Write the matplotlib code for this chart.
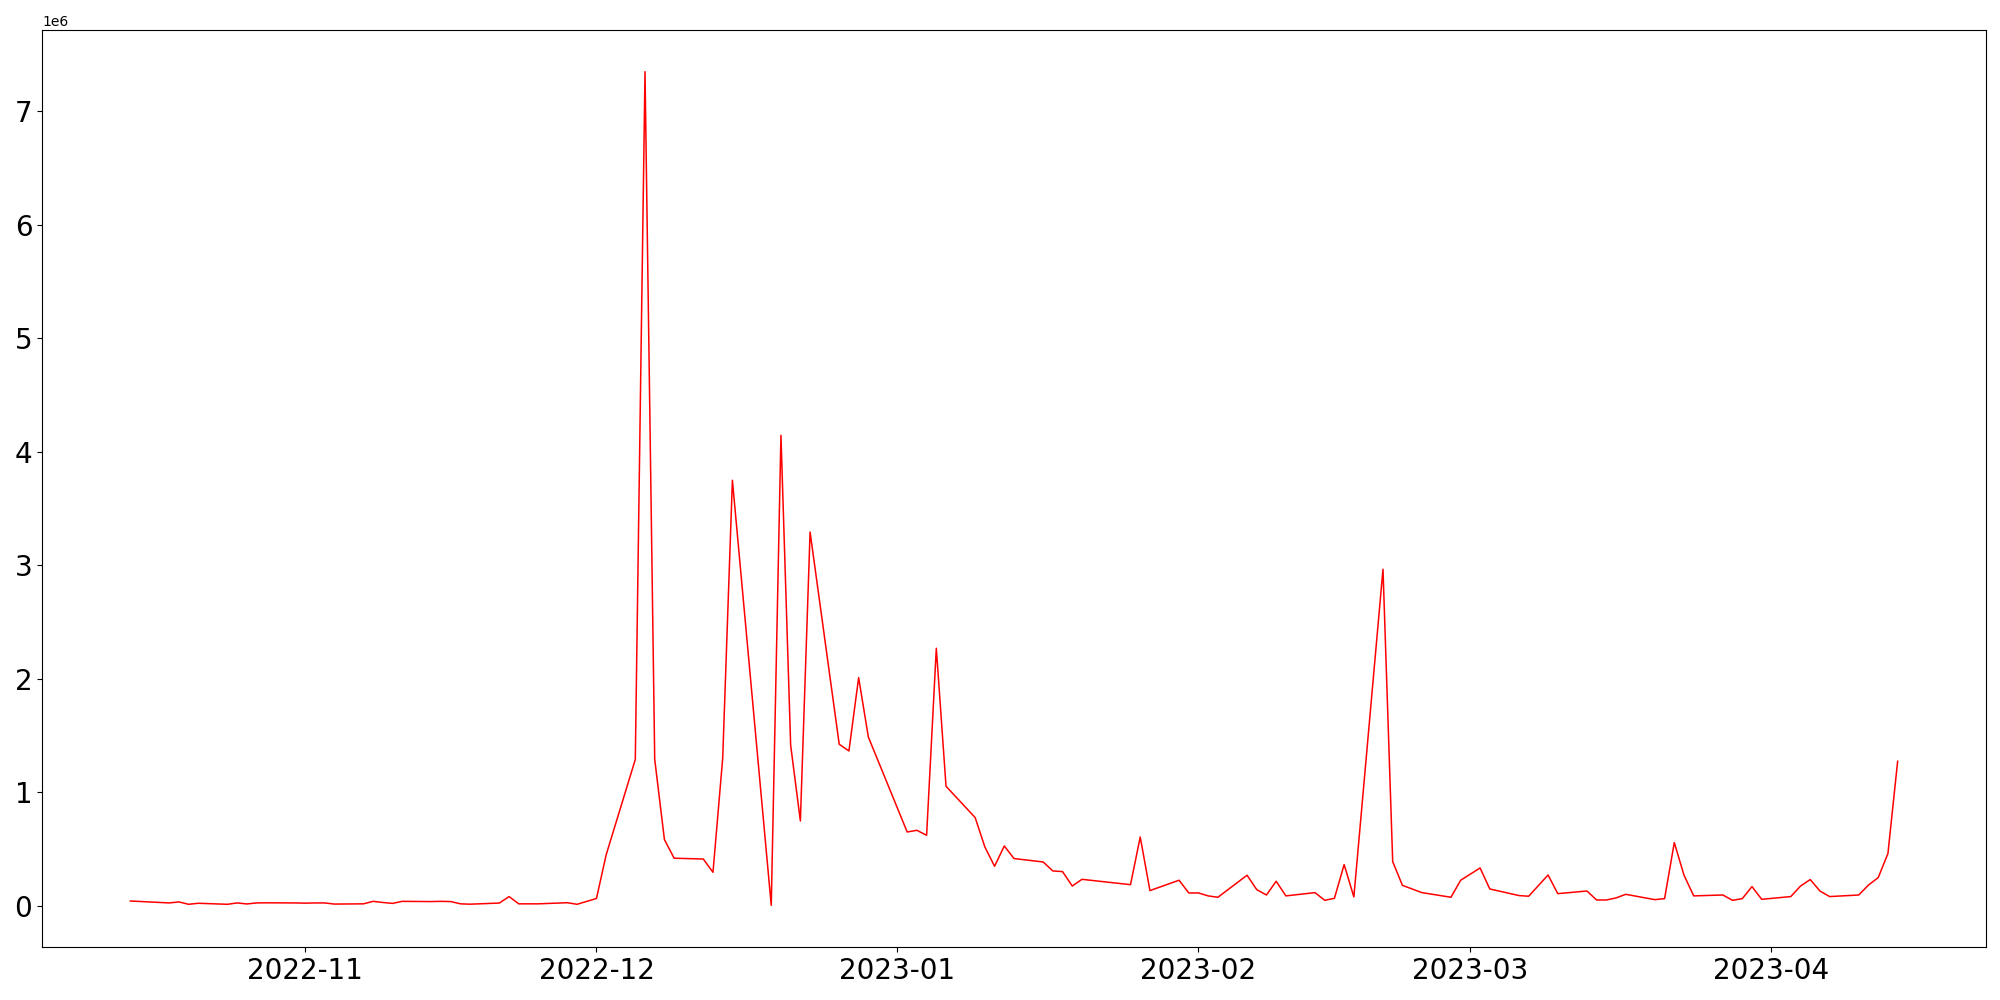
import pandas as pd
import matplotlib
matplotlib.use("Agg")
import matplotlib.pyplot as plt
import matplotlib.dates as mdates

# Dates (weekdays with gaps) and values
dates = [
    "2022-10-14", "2022-10-18", "2022-10-19", "2022-10-20", "2022-10-21",
    "2022-10-24", "2022-10-25", "2022-10-26", "2022-10-27", "2022-10-28",
    "2022-10-31", "2022-11-01", "2022-11-02", "2022-11-03", "2022-11-04",
    "2022-11-07", "2022-11-08", "2022-11-09", "2022-11-10", "2022-11-11",
    "2022-11-14", "2022-11-15", "2022-11-16", "2022-11-17", "2022-11-18",
    "2022-11-21", "2022-11-22", "2022-11-23", "2022-11-25", "2022-11-28",
    "2022-11-29", "2022-12-01", "2022-12-02", "2022-12-05", "2022-12-06",
    "2022-12-07", "2022-12-08", "2022-12-09", "2022-12-12", "2022-12-13",
    "2022-12-14", "2022-12-15", "2022-12-19", "2022-12-20", "2022-12-21",
    "2022-12-22", "2022-12-23", "2022-12-26", "2022-12-27", "2022-12-28",
    "2022-12-29", "2023-01-02", "2023-01-03", "2023-01-04", "2023-01-05",
    "2023-01-06", "2023-01-09", "2023-01-10", "2023-01-11", "2023-01-12",
    "2023-01-13", "2023-01-16", "2023-01-17", "2023-01-18", "2023-01-19",
    "2023-01-20", "2023-01-25", "2023-01-26", "2023-01-27", "2023-01-30",
    "2023-01-31", "2023-02-01", "2023-02-02", "2023-02-03", "2023-02-06",
    "2023-02-07", "2023-02-08", "2023-02-09", "2023-02-10", "2023-02-13",
    "2023-02-14", "2023-02-15", "2023-02-16", "2023-02-17", "2023-02-20",
    "2023-02-21", "2023-02-22", "2023-02-24", "2023-02-27", "2023-02-28",
    "2023-03-02", "2023-03-03", "2023-03-06", "2023-03-07", "2023-03-09",
    "2023-03-10", "2023-03-13", "2023-03-14", "2023-03-15", "2023-03-16",
    "2023-03-17", "2023-03-20", "2023-03-21", "2023-03-22", "2023-03-23",
    "2023-03-24", "2023-03-27", "2023-03-28", "2023-03-29", "2023-03-30",
    "2023-03-31", "2023-04-03", "2023-04-04", "2023-04-05", "2023-04-06",
    "2023-04-07", "2023-04-10", "2023-04-11", "2023-04-12", "2023-04-13",
    "2023-04-14",
]

# values in millions
values_m = [
    0.043, 0.026, 0.035, 0.014, 0.023,
    0.014, 0.026, 0.017, 0.026, 0.027,
    0.026, 0.024, 0.026, 0.026, 0.016,
    0.018, 0.040, 0.030, 0.022, 0.040,
    0.038, 0.040, 0.038, 0.018, 0.015,
    0.025, 0.082, 0.018, 0.018, 0.028,
    0.014, 0.065, 0.450, 1.290, 7.350,
    1.290, 0.584, 0.420, 0.413, 0.296,
    1.300, 3.750, 0.005, 4.146, 1.415,
    0.748, 3.294, 1.424, 1.365, 2.011,
    1.488, 0.651, 0.666, 0.622, 2.270,
    1.054, 0.778, 0.519, 0.349, 0.528,
    0.417, 0.387, 0.308, 0.302, 0.175,
    0.234, 0.187, 0.607, 0.135, 0.226,
    0.114, 0.114, 0.088, 0.076, 0.270,
    0.143, 0.096, 0.217, 0.088, 0.117,
    0.049, 0.067, 0.364, 0.079, 2.966,
    0.390, 0.181, 0.117, 0.076, 0.226,
    0.334, 0.149, 0.091, 0.085, 0.272,
    0.108, 0.131, 0.052, 0.052, 0.070,
    0.102, 0.055, 0.064, 0.558, 0.270,
    0.088, 0.096, 0.049, 0.064, 0.170,
    0.058, 0.082, 0.175, 0.232, 0.131,
    0.082, 0.096, 0.184, 0.249, 0.461,
    1.274,
]

x = pd.to_datetime(dates)
y = [v * 1e6 for v in values_m]

fig = plt.figure(figsize=(20, 10), dpi=100)
ax = fig.add_axes([0.021, 0.053, 0.972, 0.917])
ax.plot(x, y, color="red", linewidth=1.1)

ax.xaxis.set_major_locator(mdates.MonthLocator())
ax.xaxis.set_major_formatter(mdates.DateFormatter("%Y-%m"))
plt.xticks(fontsize=20)
plt.yticks(fontsize=20)

fig.savefig("out.png", dpi=100)
